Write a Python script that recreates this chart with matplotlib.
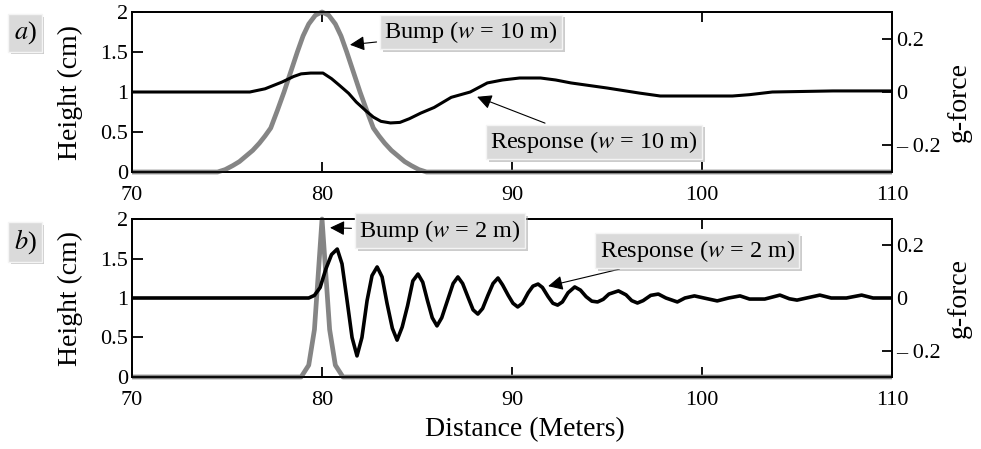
import numpy as np
import matplotlib
matplotlib.use("Agg")
import matplotlib.pyplot as plt
import matplotlib.patheffects as pe

plt.rcParams["font.family"] = ["Liberation Serif", "DejaVu Serif"]
plt.rcParams["mathtext.fontset"] = "stix"

# ── Data ──────────────────────────────────────────────────────────────────────
# a) wide bump, w = 10 m  (distance m, height cm)
bump_a_x = [70, 74.5, 74.9, 75.3, 75.65, 76.0, 76.35, 76.7, 77.0, 77.3, 77.65, 78.0,
            78.35, 78.7, 79.0, 79.3, 79.65, 80.0, 80.35, 80.7, 81.0, 81.3, 81.65,
            82.0, 82.35, 82.7, 83.0, 83.3, 83.65, 84.0, 84.35, 84.7, 85.1, 85.5, 110]
bump_a_h = [0, 0, 0.03, 0.08, 0.13, 0.2, 0.27, 0.36, 0.45, 0.55, 0.77, 1.0,
            1.25, 1.5, 1.7, 1.85, 1.96, 2.0, 1.96, 1.85, 1.7, 1.5, 1.25,
            1.0, 0.77, 0.55, 0.45, 0.36, 0.27, 0.2, 0.13, 0.08, 0.03, 0, 0]

# a) response (distance m, g-force)
resp_a_x = [70, 76.2, 77.0, 77.9, 78.5, 78.9, 79.4, 80.05, 80.5, 80.9,
            81.4, 81.8, 82.3, 82.7, 83.1, 83.6, 84.1, 84.6, 85.2, 85.9,
            86.8, 87.8, 88.7, 89.5, 90.4, 91.5, 92.3, 93.1, 95.0, 96.7,
            97.8, 101.6, 102.5, 103.7, 106.9, 110]
resp_a_g = [0, 0, 0.012, 0.0375, 0.058, 0.068, 0.071, 0.071, 0.05, 0.026,
            -0.005, -0.0375, -0.07, -0.094, -0.11, -0.116, -0.114, -0.1, -0.079, -0.058,
            -0.02, 0.0, 0.034, 0.045, 0.0525, 0.0525, 0.045, 0.034, 0.015, -0.004,
            -0.015, -0.015, -0.01, 0.0, 0.004, 0.004]

# b) narrow bump, w = 2 m
bump_b_x = [70, 78.9, 79.3, 79.6, 79.8, 80.0, 80.2, 80.4, 80.7, 81.1, 110]
bump_b_h = [0, 0, 0.15, 0.6, 1.3, 2.0, 1.3, 0.6, 0.15, 0, 0]

# b) response
resp_b_x = [70, 79.3, 79.6, 79.9, 80.2, 80.5, 80.8, 81.05, 81.3, 81.58,
            81.84, 82.1, 82.37, 82.63, 82.9, 83.16, 83.42, 83.7, 83.95, 84.22,
            84.5, 84.78, 85.05, 85.3, 85.55, 85.8, 86.05, 86.3, 86.6, 86.9,
            87.15, 87.4, 87.7, 87.95, 88.2, 88.45, 88.73, 89.0, 89.26, 89.5,
            89.8, 90.05, 90.3, 90.55, 90.85, 91.1, 91.37, 91.6, 91.9, 92.15,
            92.4, 92.65, 92.95, 93.3, 93.6, 93.9, 94.2, 94.5, 94.8, 95.1,
            95.6, 96.0, 96.3, 96.6, 96.9, 97.3, 97.7, 98.1, 98.7, 99.1,
            99.6, 100.1, 100.8, 101.4, 102.0, 102.5, 103.3, 104.1, 104.6, 105.0,
            105.5, 106.2, 106.8, 107.6, 108.4, 109.0, 110]
resp_b_g = [0, 0, 0.01, 0.04, 0.11, 0.165, 0.186, 0.13, 0.0, -0.15,
            -0.22, -0.15, -0.01, 0.085, 0.118, 0.08, -0.02, -0.115, -0.16, -0.11,
            -0.03, 0.065, 0.091, 0.06, -0.01, -0.075, -0.106, -0.075, -0.01, 0.055,
            0.08, 0.055, 0.0, -0.045, -0.061, -0.04, 0.01, 0.055, 0.076, 0.05,
            0.01, -0.02, -0.034, -0.02, 0.02, 0.045, 0.053, 0.04, 0.005, -0.02,
            -0.027, -0.015, 0.02, 0.042, 0.03, 0.005, -0.012, -0.015, -0.005, 0.015,
            0.027, 0.012, -0.01, -0.019, -0.01, 0.01, 0.015, 0.0, -0.015, 0.0,
            0.008, 0.0, -0.011, 0.0, 0.008, -0.004, -0.004, 0.011, -0.003, -0.008,
            0.0, 0.011, 0.0, 0.0, 0.011, 0.0, 0.0]

x_ticks = [70, 80, 90, 100, 110]
h_ticks = [0, 0.5, 1, 1.5, 2]
h_tick_labels = ["0", "0.5", "1", "1.5", "2"]
g_ticks = [0.2, 0, -0.2]
g_tick_labels = ["0.2", "0", "\u2013 0.2"]

panels = [
    dict(label="a", bx=bump_a_x, bh=bump_a_h, rx=resp_a_x, rg=resp_a_g, rlw=2.2,
         bump_txt="Bump ($w$ = 10 m)", bump_xy=(81.47, 1.59), bump_pos=(87.84, 1.75),
         resp_txt="Response ($w$ = 10 m)", resp_xy=(88.16, 0.94), resp_pos=(94.3, 0.375)),
    dict(label="b", bx=bump_b_x, bh=bump_b_h, rx=resp_b_x, rg=resp_b_g, rlw=2.6,
         bump_txt="Bump ($w$ = 2 m)", bump_xy=(80.42, 1.89), bump_pos=(86.2, 1.85),
         resp_txt="Response ($w$ = 2 m)", resp_xy=(91.9, 1.15), resp_pos=(99.74, 1.6)),
]

# ── Figure ────────────────────────────────────────────────────────────────────
fig = plt.figure(figsize=(9.81, 4.49), dpi=100, facecolor="white")
boxes = [[0.1346, 0.6169, 0.7747, 0.3564],
         [0.1346, 0.1604, 0.7747, 0.3518]]
label_y = [1 - 33 / 449, 1 - 242 / 449]

box_kw = dict(boxstyle="square,pad=0.18", facecolor="#dadada", edgecolor="#f4f4f4", linewidth=1.0)
shadow = [pe.withSimplePatchShadow(offset=(2, -2), shadow_rgbFace="#9a9a9a", alpha=0.5)]
BUMP_GRAY = "#858585"

for i, p in enumerate(panels):
    ax = fig.add_axes(boxes[i])
    ax.plot(p["bx"], p["bh"], color=BUMP_GRAY, linewidth=3.4, clip_on=False, zorder=3,
            solid_capstyle="butt")
    ax.set_xlim(70, 110)
    ax.set_ylim(0, 2)
    ax.set_xticks(x_ticks)
    ax.set_yticks(h_ticks)
    ax.set_yticklabels(h_tick_labels)
    ax.tick_params(direction="in", labelsize=16, width=1.3, length=8, pad=3)
    ax.tick_params(axis="x", pad=10, length=7)
    ax.set_ylabel("Height (cm)", fontsize=20)
    ax.yaxis.set_label_coords(-0.064, 0.5)
    for s in ax.spines.values():
        s.set_linewidth(1.3)

    # top ticks only at 80 and 100
    top = ax.secondary_xaxis("top")
    top.set_xticks([80, 100])
    top.tick_params(direction="in", length=7, width=1.3, labeltop=False)
    top.spines["top"].set_visible(False)

    ax2 = ax.twinx()
    ax2.plot(p["rx"], p["rg"], color="black", linewidth=p["rlw"], zorder=4)
    ax2.set_ylim(-0.3, 0.3)
    ax2.set_yticks(g_ticks)
    ax2.set_yticklabels(g_tick_labels)
    ax2.tick_params(direction="in", labelsize=16, width=1.3, length=7, pad=3)
    ax2.set_ylabel("g-force", fontsize=20, rotation=90)
    ax2.yaxis.set_label_coords(1.072, 0.44 if i == 0 else 0.5)
    for s in ax2.spines.values():
        s.set_linewidth(1.3)

    for txt, xy, pos in [(p["bump_txt"], p["bump_xy"], p["bump_pos"]),
                         (p["resp_txt"], p["resp_xy"], p["resp_pos"])]:
        t = ax2.annotate(txt, xy=xy, xycoords=ax.transData, xytext=pos, textcoords=ax.transData,
                         ha="center", va="center", fontsize=17.5, bbox=box_kw, zorder=6,
                         arrowprops=dict(arrowstyle="-|>", color="black", lw=0.8,
                                         mutation_scale=22, shrinkB=0))
        t.get_bbox_patch().set_path_effects(shadow)

    pl = fig.text(25 / 981, label_y[i], f"${p['label']}$)", fontsize=19, ha="center", va="center",
                  bbox=dict(boxstyle="square,pad=0.2", facecolor="#dadada", edgecolor="#f4f4f4"))
    pl.get_bbox_patch().set_path_effects(shadow)

    if i == 1:
        ax.set_xlabel("Distance (Meters)", fontsize=20)
        ax.xaxis.set_label_coords(0.517, -0.255)

fig.savefig("out.png", dpi=100, facecolor="white")
